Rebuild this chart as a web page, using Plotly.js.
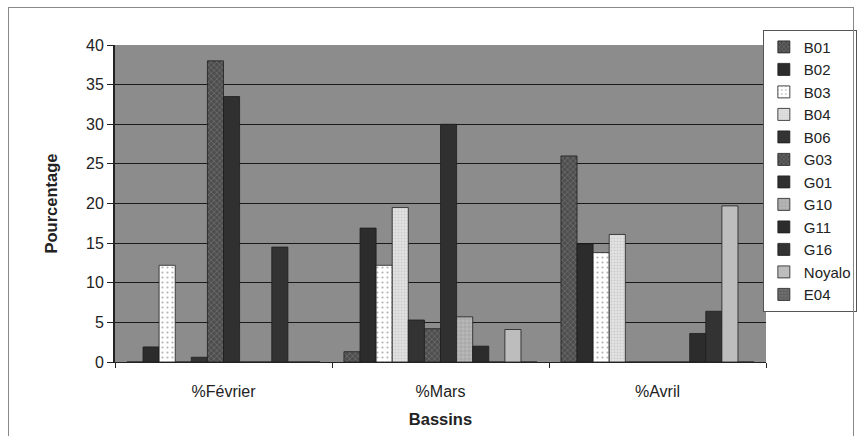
<!DOCTYPE html>
<html>
<head>
<meta charset="utf-8">
<script src="https://cdn.plot.ly/plotly-3.0.1.min.js"></script>
<style>
  html, body { margin: 0; padding: 0; background: #fff; }
  #wrap { position: relative; width: 861px; height: 436px; }
  #frame { position: absolute; left: 8px; top: 7px; width: 846px; height: 440px; border: 1px solid #888; box-sizing: border-box; pointer-events: none; }
  #chart { width: 861px; height: 436px; }
</style>
</head>
<body>
<div id="wrap">
  <div id="chart"></div>
  <div id="frame"></div>
</div>
<script>
const categories = ["%Février", "%Mars", "%Avril"];
const seriesNames = ["B01", "B02", "B03", "B04", "B06", "G03", "G01", "G10", "G11", "G16", "Noyalo", "E04"];
const B01 = [0, 1.3, 26.0];
const B02 = [1.9, 16.9, 14.9];
const B03 = [12.2, 12.2, 13.8];
const B04 = [0, 19.5, 16.1];
const B06 = [0.6, 5.3, 0];
const G03 = [38.0, 4.2, 0];
const G01 = [33.5, 30.0, 0];
const G10 = [0, 5.7, 0];
const G11 = [0, 2.0, 3.6];
const G16 = [14.5, 0, 6.4];
const Noyalo = [0, 4.1, 19.7];
const E04 = [0, 0, 0];
const seriesValues = [B01, B02, B03, B04, B06, G03, G01, G10, G11, G16, Noyalo, E04];

const styles = [
  {color: "#4e4e4e", pattern: {shape: "x", fgcolor: "#8c8c8c", size: 4, solidity: 0.35}},
  {color: "#2c2c2c"},
  {color: "#ffffff", pattern: {shape: ".", fgcolor: "#666", size: 5, solidity: 0.15}},
  {color: "#e2e2e2", pattern: {shape: "+", fgcolor: "#a8a8a8", size: 3, solidity: 0.25}},
  {color: "#333333"},
  {color: "#4e4e4e", pattern: {shape: "x", fgcolor: "#8c8c8c", size: 4, solidity: 0.35}},
  {color: "#303030"},
  {color: "#b8b8b8", pattern: {shape: "+", fgcolor: "#7a7a7a", size: 4, solidity: 0.25}},
  {color: "#2c2c2c"},
  {color: "#333333"},
  {color: "#bdbdbd"},
  {color: "#5e5e5e", pattern: {shape: "+", fgcolor: "#a0a0a0", size: 4, solidity: 0.3}}
];

const traces = seriesNames.map((name, i) => {
  const m = {color: styles[i].color, line: {color: "#1e1e1e", width: 0.8}};
  if (styles[i].pattern) {
    m.pattern = Object.assign({fillmode: "overlay", bgcolor: styles[i].color}, styles[i].pattern);
  }
  return {type: "bar", name: name, x: categories, y: seriesValues[i], marker: m};
});

const layout = {
  width: 861,
  height: 436,
  margin: {l: 115, r: 95, t: 45, b: 74, autoexpand: false},
  paper_bgcolor: "#ffffff",
  plot_bgcolor: "#8c8c8c",
  font: {family: "Liberation Sans, Arial, sans-serif", color: "#222"},
  barmode: "group",
  bargap: 0.11,
  bargroupgap: 0,
  showlegend: true,
  legend: {
    xref: "container", yref: "container",
    x: 0.886, xanchor: "left", y: 0.932, yanchor: "top",
    bordercolor: "#555", borderwidth: 1, bgcolor: "#fff",
    font: {size: 15, family: "Liberation Sans, Arial, sans-serif", color: "#222"},
    itemwidth: 30, tracegroupgap: 0, maxheight: 400
  },
  xaxis: {
    type: "category",
    tickson: "boundaries",
    ticks: "outside", ticklen: 5, tickcolor: "#222",
    showline: true, linecolor: "#222", linewidth: 1,
    tickfont: {size: 16},
    ticklabelstandoff: 15,
    title: {text: "<b>Bassins</b>", font: {size: 16.5}, standoff: 14},
    showgrid: false
  },
  yaxis: {
    range: [0, 40],
    dtick: 5,
    ticks: "outside", ticklen: 6, tickcolor: "#222",
    showline: true, linecolor: "#222", linewidth: 2,
    tickfont: {size: 16},
    gridcolor: "#1a1a1a", gridwidth: 1,
    zeroline: false,
    title: {text: "<b>Pourcentage</b>", font: {size: 16.5}, standoff: 24}
  }
};

Plotly.newPlot("chart", traces, layout, {displayModeBar: false, staticPlot: true});
</script>
</body>
</html>
